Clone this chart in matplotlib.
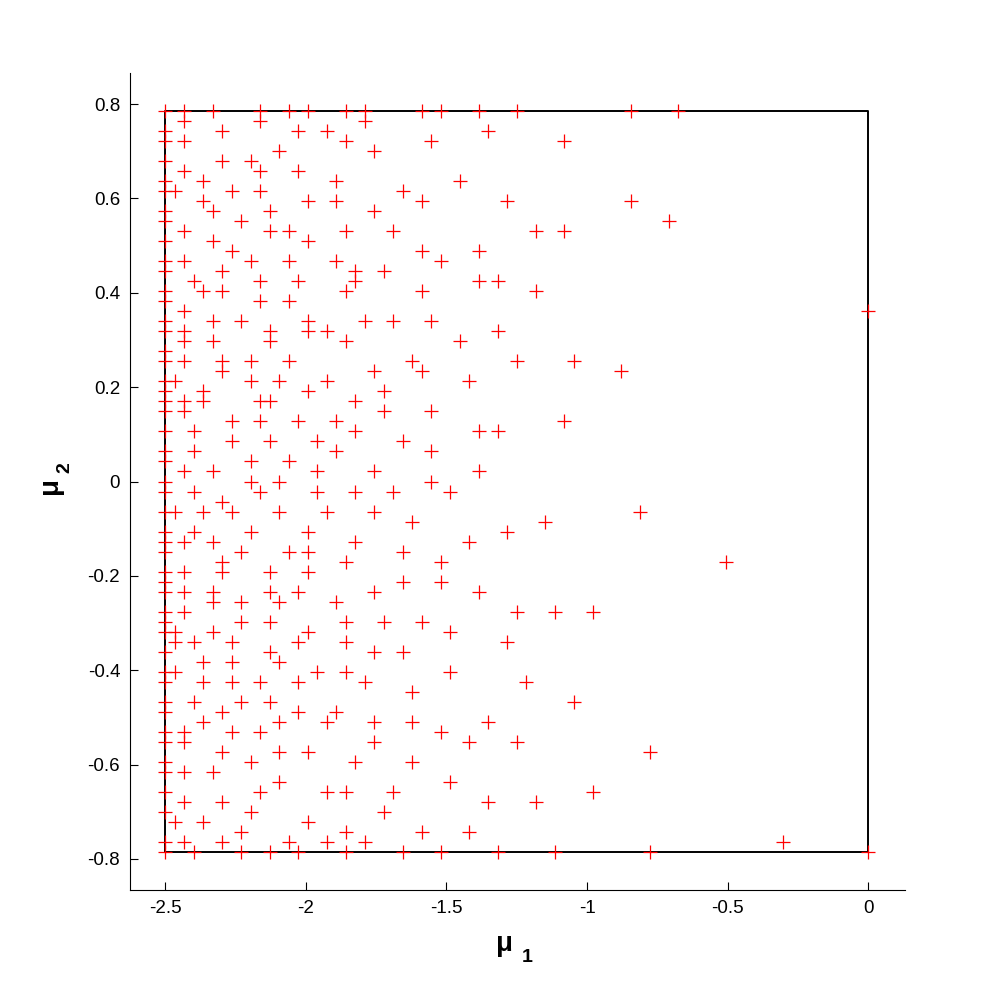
"""
Selected parameter points (mu1, mu2) on the candidate grid, with the
parameter domain drawn as a box.
"""

import numpy as np
import matplotlib.pyplot as plt

plt.rcParams['font.family'] = ['Liberation Sans', 'DejaVu Sans']
plt.rcParams['axes.unicode_minus'] = False

# candidate grid of the parameter domain (75 x 75 samples)
mu1_grid = np.linspace(-2.5, 0.0, 75)
mu2_grid = np.linspace(np.pi / 4, -np.pi / 4, 75)   # top row first

# selected grid columns (mu1 index) for each grid row, top row first
cols_by_row = [
    [0, 2, 5, 10, 13, 15, 19, 21, 27, 29, 33, 37, 49, 54],
    [2, 10, 21],
    [0, 6, 14, 17, 34],
    [0, 2, 19, 28, 42],
    [12, 22],
    [0, 6, 9],
    [2, 10, 14],
    [0, 4, 18, 31],
    [0, 1, 7, 10, 25],
    [4, 15, 18, 27, 36, 49],
    [0, 5, 11, 22],
    [0, 8, 53],
    [2, 11, 13, 19, 24, 39, 42],
    [0, 5, 15],
    [7, 27, 33],
    [0, 2, 9, 13, 18, 29],
    [0, 6, 20, 23],
    [3, 10, 14, 20, 33, 35],
    [0, 4, 6, 19, 27, 39],
    [0, 10, 13],
    [2, 74],
    [0, 5, 8, 15, 21, 24, 28],
    [0, 2, 11, 15, 17, 35],
    [2, 5, 11, 19, 31],
    [0],
    [0, 2, 6, 9, 13, 26, 37, 43],
    [6, 22, 27, 48],
    [0, 1, 9, 12, 17, 32],
    [0, 4, 15, 23],
    [0, 2, 4, 10, 11, 20],
    [0, 2, 23, 28],
    [7, 10, 14, 18, 42],
    [0, 3, 20, 33, 35],
    [7, 11, 16, 25],
    [0, 3, 18, 28],
    [0, 9, 13],
    [2, 5, 16, 22, 33],
    [0, 9, 12, 28],
    [0, 3, 10, 16, 20, 24, 30],
    [6],
    [0, 1, 4, 7, 12, 17, 22, 50],
    [26, 40],
    [0, 3, 9, 15, 36],
    [0, 2, 5, 20, 32],
    [0, 8, 13, 15, 25],
    [6, 19, 29, 59],
    [0, 2, 6, 11, 15],
    [0, 25, 29],
    [0, 2, 5, 11, 14, 22, 33],
    [5, 8, 12, 18],
    [0, 2, 37, 41, 45],
    [0, 8, 11, 19, 23, 27],
    [0, 1, 5, 15, 30],
    [1, 3, 7, 14, 19, 36],
    [0, 11, 22, 25],
    [4, 7, 12],
    [0, 1, 16, 19, 30],
    [0, 4, 7, 10, 14, 21, 38],
    [26],
    [0, 3, 8, 11, 43],
    [0, 6, 14, 18],
    [4, 12, 17, 22, 26, 34],
    [0, 2, 7, 10, 29],
    [0, 2, 22, 32, 37],
    [6, 12, 15, 51],
    [0, 9, 20, 26],
    [0, 2, 5],
    [12, 30],
    [0, 10, 17, 19, 24, 45],
    [2, 6, 34, 39],
    [0, 9, 23],
    [1, 4, 15],
    [8, 19, 27, 32],
    [0, 2, 6, 13, 17, 21, 65],
    [0, 3, 8, 11, 14, 19, 25, 29, 35, 41, 51, 74],
]

xticks = [-2.5, -2, -1.5, -1, -0.5, 0]
xtick_labels = ['-2.5', '-2', '-1.5', '-1', '-0.5', '0']
yticks = [-0.8, -0.6, -0.4, -0.2, 0, 0.2, 0.4, 0.6, 0.8]
ytick_labels = ['-0.8', '-0.6', '-0.4', '-0.2', '0', '0.2', '0.4', '0.6', '0.8']


def main():
    mu1 = []
    mu2 = []
    for r, cols in enumerate(cols_by_row):
        for k in cols:
            mu1.append(mu1_grid[k])
            mu2.append(mu2_grid[r])

    fig = plt.figure(figsize=(9.99, 10), dpi=100)
    ax = fig.add_axes([0.1301, 0.110, 0.7758, 0.817])

    # domain box
    x0, x1 = mu1_grid.min(), mu1_grid.max()
    y0, y1 = mu2_grid.min(), mu2_grid.max()
    ax.plot([x0, x1, x1, x0, x0], [y0, y0, y1, y1, y0], color='k', lw=1.4)

    ax.plot(mu1, mu2, '+', color='red', markersize=9.5, markeredgewidth=0.9,
            clip_on=False)

    ax.set_xlim(-2.625, 0.13)
    ax.set_ylim(-0.866, 0.866)
    ax.set_xticks(xticks)
    ax.set_xticklabels(xtick_labels)
    ax.set_yticks(yticks)
    ax.set_yticklabels(ytick_labels)
    ax.tick_params(direction='in', length=6, width=0.8, labelsize=13.5, pad=7)
    ax.spines['top'].set_visible(False)
    ax.spines['right'].set_visible(False)
    for s in ('left', 'bottom'):
        ax.spines[s].set_linewidth(0.8)

    # axis labels: bold mu with a lowered index
    fig.text(0.496, 0.056, 'μ', fontsize=20, fontweight='bold',
             ha='left', va='center')
    fig.text(0.522, 0.042, '1', fontsize=14, fontweight='bold',
             ha='left', va='center')
    fig.text(0.050, 0.506, 'μ', fontsize=20, fontweight='bold',
             rotation=90, ha='center', va='bottom')
    fig.text(0.065, 0.532, '2', fontsize=14, fontweight='bold',
             rotation=90, ha='center', va='center')

    fig.savefig('out.png', dpi=100, facecolor='white')


if __name__ == "__main__":
    main()
